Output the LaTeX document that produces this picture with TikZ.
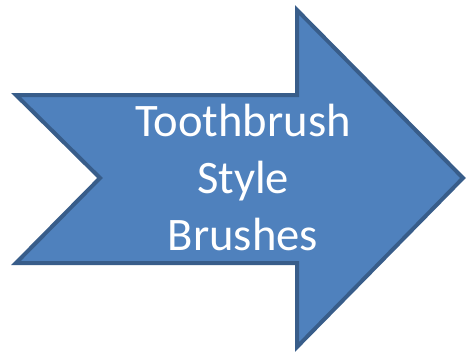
\documentclass[tikz,border=0pt]{standalone}
\usepackage{fontspec}
\setmainfont{Carlito}
\usepackage{xcolor}
\usepackage{tikz}
\definecolor{preenche}{HTML}{4F81BD}
\definecolor{contorno}{HTML}{385D8A}
\tikzset{
  seta/.style={fill=preenche, draw=contorno, line width=4pt, line join=miter},
  rotulo/.style={text=white, align=center, font=\fontsize{46.6}{57}\selectfont, inner sep=0pt},
}
\begin{document}
\begin{tikzpicture}[x=1pt, y=-1pt]
    \useasboundingbox (0,0) rectangle (469,356);
    \draw[seta] (16,95) -- (297,95) -- (297,10) -- (463,178) -- (297,347)
      -- (297,263) -- (16,263) -- (100,178) -- cycle;
    \node[rotulo] (texto) at (243,177) {Toothbrush\\Style\\Brushes};
  \end{tikzpicture}
\end{document}
